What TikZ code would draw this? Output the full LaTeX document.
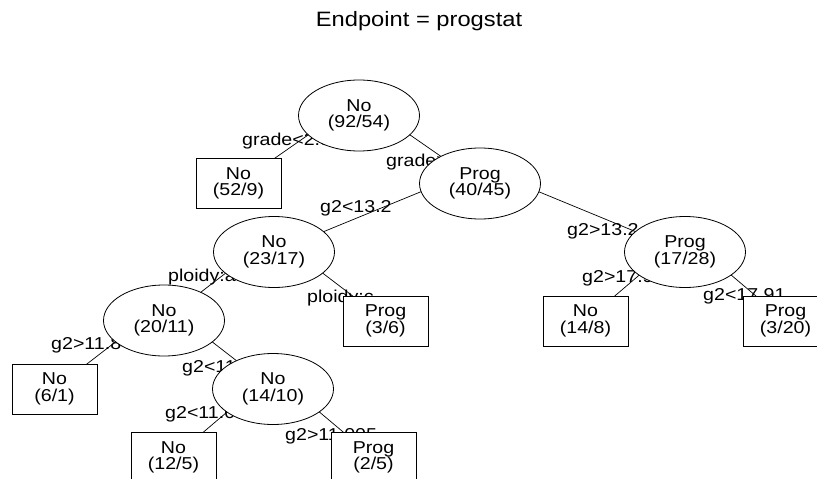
\documentclass[tikz,border=0pt]{standalone}
\usepackage{fontspec}
\newfontfamily\treefont[FakeStretch=1.14]{Liberation Sans}
\usetikzlibrary{shapes.geometric}
\pgfdeclarelayer{background}
\pgfsetlayers{background,main}
\tikzset{
  txt/.style={font=\treefont\fontsize{17.2}{16.5}\selectfont, text=black},
  split/.style={txt, ellipse, draw=black, fill=white, line width=0.8pt, minimum width=121pt, minimum height=71pt, inner sep=0pt, align=center},
  leaf/.style={txt, rectangle, draw=black, fill=white, line width=0.8pt, minimum width=85pt, minimum height=50pt, inner sep=0pt, align=center},
  cond/.style={txt, anchor=base west, inner sep=0pt},
  branchline/.style={draw=black, line width=0.7pt},
}

\begin{document}
\begin{tikzpicture}[x=1pt,y=-1pt]
  \useasboundingbox (0,0) rectangle (817,479);
  \clip (0,0) rectangle (817,479);
  \node[txt, font=\treefont\fontsize{20.8}{22}\selectfont, anchor=base] (title) at (419,27) {Endpoint = progstat};
  % inner splits
  \node[split] (root) at (359,115.5) {No\\(92/54)};
  \node[split] (prog4045) at (480,183.5) {Prog\\(40/45)};
  \node[split] (no2317) at (274,252) {No\\(23/17)};
  \node[split] (prog1728) at (685,252) {Prog\\(17/28)};
  \node[split] (no2011) at (164,320.5) {No\\(20/11)};
  \node[split] (no1410) at (273,389) {No\\(14/10)};
  % terminal nodes
  \node[leaf] (lf529) at (238.5,183.5) {No\\(52/9)};
  \node[leaf] (lf36) at (385.5,321) {Prog\\(3/6)};
  \node[leaf] (lf148) at (585.5,321) {No\\(14/8)};
  \node[leaf] (lf320) at (785.5,321) {Prog\\(3/20)};
  \node[leaf] (lf61) at (54.5,389) {No\\(6/1)};
  \node[leaf] (lf125) at (173.5,457.5) {No\\(12/5)};
  \node[leaf] (lf25) at (373.5,457.5) {Prog\\(2/5)};
  \begin{pgfonlayer}{background}
    % branches, from just above the parent centre
    \foreach \p/\c in {root/lf529, root/prog4045, prog4045/no2317, prog4045/prog1728,
                       no2317/no2011, no2317/lf36, prog1728/lf148, prog1728/lf320,
                       no2011/lf61, no2011/no1410, no1410/lf125, no1410/lf25}
      \draw[branchline] ([yshift=16pt]\p.center) -- (\c.center);
    % split conditions
    \node[cond] (c1) at (242,145) {grade<2.5};
    \node[cond] (c2) at (386,166) {grade>2.5};
    \node[cond] (c3) at (320,212) {g2<13.2};
    \node[cond] (c4) at (567,235) {g2>13.2};
    \node[cond] (c5) at (168,281) {ploidy:ab};
    \node[cond] (c6) at (307,302) {ploidy:c};
    \node[cond] (c7) at (582,282) {g2>17.91};
    \node[cond] (c8) at (703,300) {g2<17.91};
    \node[cond] (c9) at (51,349.5) {g2>11.845};
    \node[cond] (c10) at (182,372) {g2<11.845};
    \node[cond] (c11) at (165,418) {g2<11.005};
    \node[cond] (c12) at (285,440) {g2>11.005};
  \end{pgfonlayer}
\end{tikzpicture}
\end{document}
